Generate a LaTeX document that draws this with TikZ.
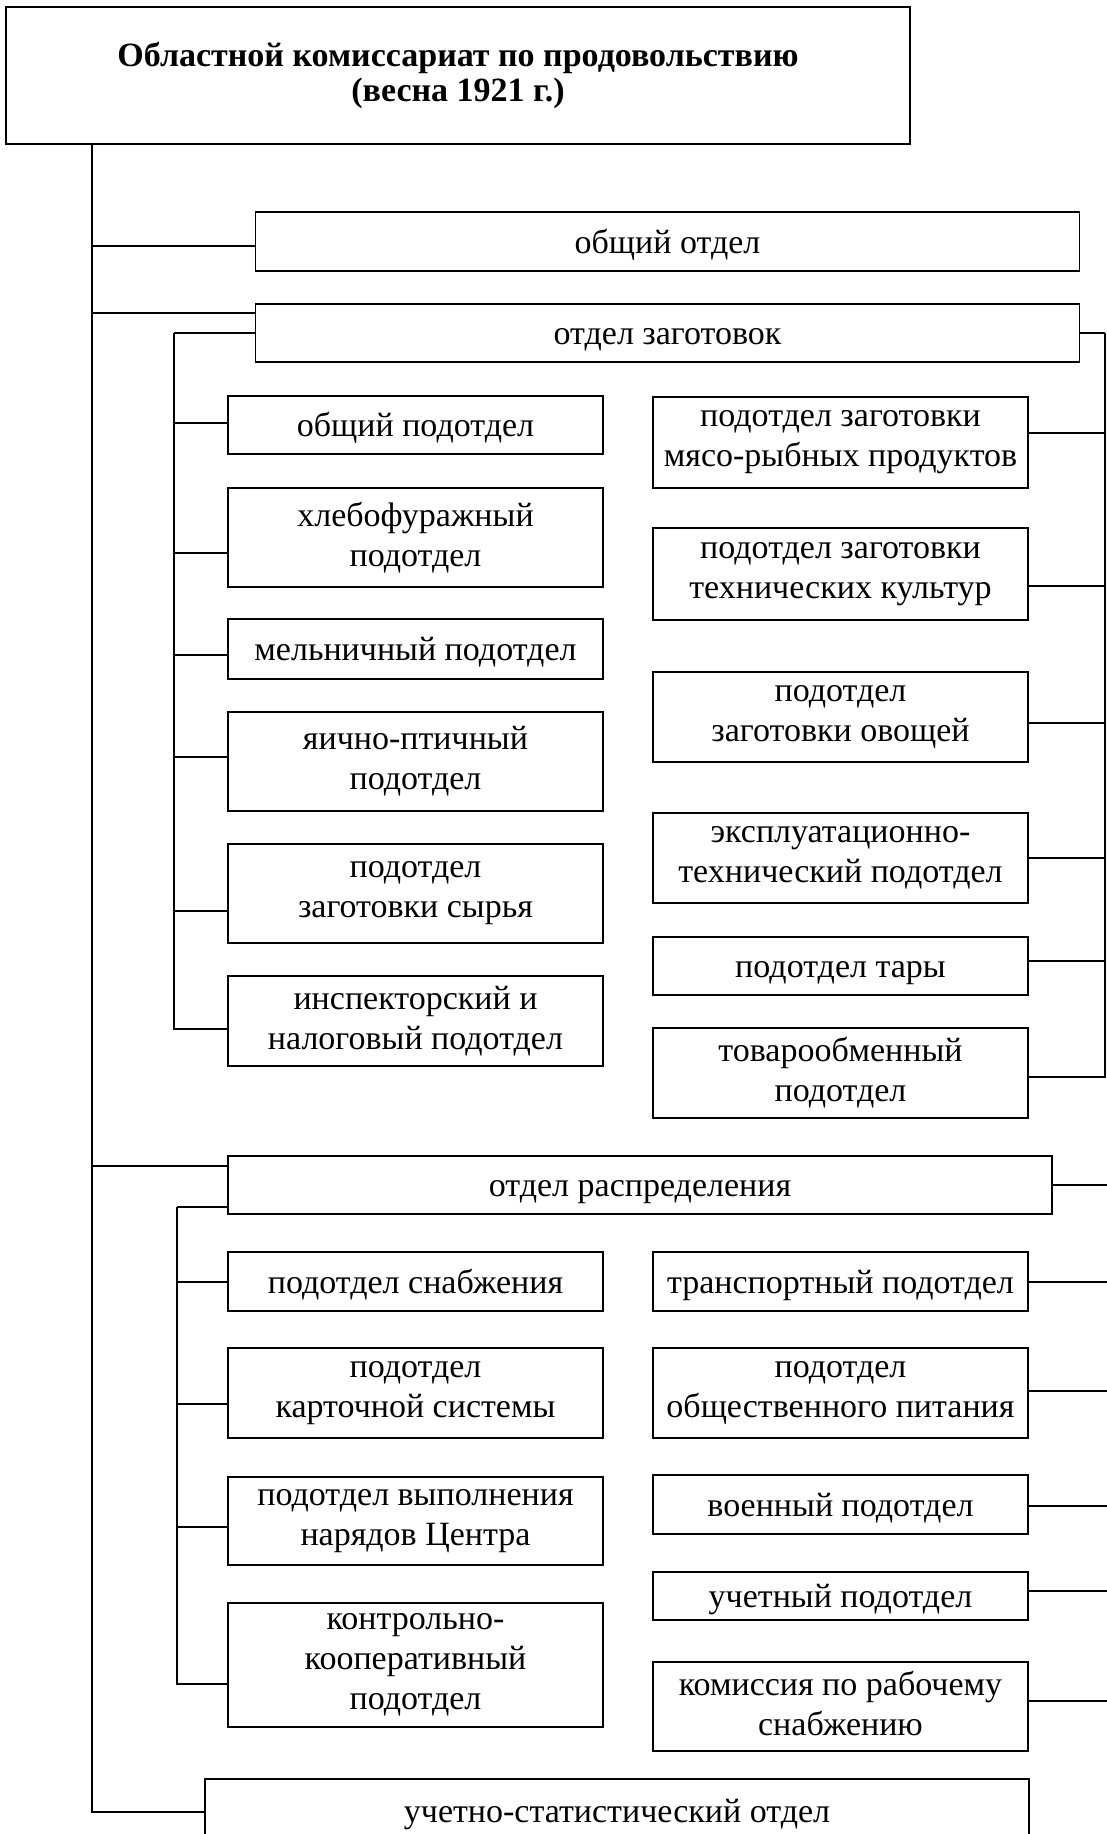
\documentclass[tikz,border=0pt]{standalone}
\usepackage{fontspec}
\setmainfont{Liberation Serif}
\usetikzlibrary{positioning}
\newcommand\bxstrut{\rule[-7.3pt]{0pt}{37.6pt}}

\begin{document}
\begin{tikzpicture}[x=1pt, y=-1pt, line width=1.6pt,
  box/.style={draw, align=center, inner sep=0pt, minimum width=375pt,
    font=\fontsize{34}{40}\selectfont,
    execute at begin node=\bxstrut, execute at end node=\bxstrut},
  wide/.style={box, minimum width=824pt}]
  \useasboundingbox (0,0) rectangle (1107,1834);

  \node [draw, align=center, minimum width=904pt, minimum height=137pt,
    font=\fontsize{34}{35}\selectfont\bfseries] (top) at (458,75.5)
    {Областной комиссариат по продовольствию\\(весна 1921 г.)};

  \node [wide, minimum height=59pt] (obotd) at (667.5,241.5) {общий отдел};
  \node [wide, minimum height=58pt] (zag) at (667.5,333) {отдел заготовок};
  \node [wide, minimum height=58pt] (raspr) at (640,1185) {отдел распределения};
  \node [wide, minimum height=64pt] (uchst) at (617,1811) {учетно-статистический отдел};

  \node [box, minimum height=58pt] (l1) at (415.5,425) {общий подотдел};
  \node [box, minimum height=99pt] (l2) at (415.5,537.5) {хлебофуражный\\подотдел};
  \node [box, minimum height=60pt] (l3) at (415.5,649) {мельничный подотдел};
  \node [box, minimum height=99pt] (l4) at (415.5,761.5) {яично-птичный\\подотдел};
  \node [box, minimum height=99pt] (l5) at (415.5,893.5) {подотдел\\заготовки сырья};
  \node [box, minimum height=90pt] (l6) at (415.5,1021) {инспекторский и\\налоговый подотдел};

  \node [box, minimum height=91pt] (r1) at (840.5,442.5) {подотдел заготовки\\мясо-рыбных продуктов};
  \node [box, minimum height=92pt] (r2) at (840.5,574) {подотдел заготовки\\технических культур};
  \node [box, minimum height=90pt] (r3) at (840.5,717) {подотдел\\заготовки овощей};
  \node [box, minimum height=90pt] (r4) at (840.5,858) {эксплуатационно-\\технический подотдел};
  \node [box, minimum height=58pt] (r5) at (840.5,966) {подотдел тары};
  \node [box, minimum height=90pt] (r6) at (840.5,1073) {товарообменный\\подотдел};

  \node [box, minimum height=59pt] (p1) at (415.5,1281.5) {подотдел снабжения};
  \node [box, minimum height=90pt] (p2) at (415.5,1393) {подотдел\\карточной системы};
  \node [box, minimum height=88pt] (p3) at (415.5,1521) {подотдел выполнения\\нарядов Центра};
  \node [box, minimum height=124pt] (p4) at (415.5,1665) {контрольно-\\кооперативный\\подотдел};

  \node [box, minimum height=59pt] (q1) at (840.5,1281.5) {транспортный подотдел};
  \node [box, minimum height=90pt] (q2) at (840.5,1393) {подотдел\\общественного питания};
  \node [box, minimum height=59pt] (q3) at (840.5,1504.5) {военный подотдел};
  \node [box, minimum height=48pt] (q4) at (840.5,1596) {учетный подотдел};
  \node [box, minimum height=89pt] (q5) at (840.5,1706.5) {комиссия по рабочему\\снабжению};

  \coordinate (mb) at (92,144);
  \coordinate (zl) at (174,333);
  \coordinate (zr) at (1105,333);
  \coordinate (rl) at (177,1207);
  \coordinate (rr) at (1115,1185);

  \draw ([yshift=-4.5pt]obotd.west) -| (mb);
  \draw ([yshift=20pt]zag.west) -| (mb);
  \draw ([yshift=19pt]raspr.west) -| (mb);
  \draw ([yshift=-1pt]uchst.west) -| (mb);

  \draw (zag.west) -- (zl) (zag.east) -- (zr);
  \draw ([yshift=2pt]l1.west) -| (zl) ([yshift=-15.5pt]l2.west) -| (zl)
    ([yshift=-6pt]l3.west) -| (zl) ([yshift=4.5pt]l4.west) -| (zl)
    ([yshift=-17.5pt]l5.west) -| (zl) ([yshift=-8pt]l6.west) -| (zl);
  \draw ([yshift=9.5pt]r1.east) -| (zr) ([yshift=-12pt]r2.east) -| (zr)
    ([yshift=-6pt]r3.east) -| (zr) (r4.east) -| (zr)
    ([yshift=5pt]r5.east) -| (zr) ([yshift=-4pt]r6.east) -| (zr);

  \draw ([yshift=-22pt]raspr.west) -- (rl) (raspr.east) -- (rr);
  \draw ([yshift=-0.5pt]p1.west) -| (rl) ([yshift=-11pt]p2.west) -| (rl)
    ([yshift=-6pt]p3.west) -| (rl) ([yshift=-19pt]p4.west) -| (rl);
  \draw ([yshift=-0.5pt]q1.east) -| (rr) ([yshift=2pt]q2.east) -| (rr)
    ([yshift=-1.5pt]q3.east) -| (rr) ([yshift=5pt]q4.east) -| (rr)
    ([yshift=5.5pt]q5.east) -| (rr);
\end{tikzpicture}
\end{document}
